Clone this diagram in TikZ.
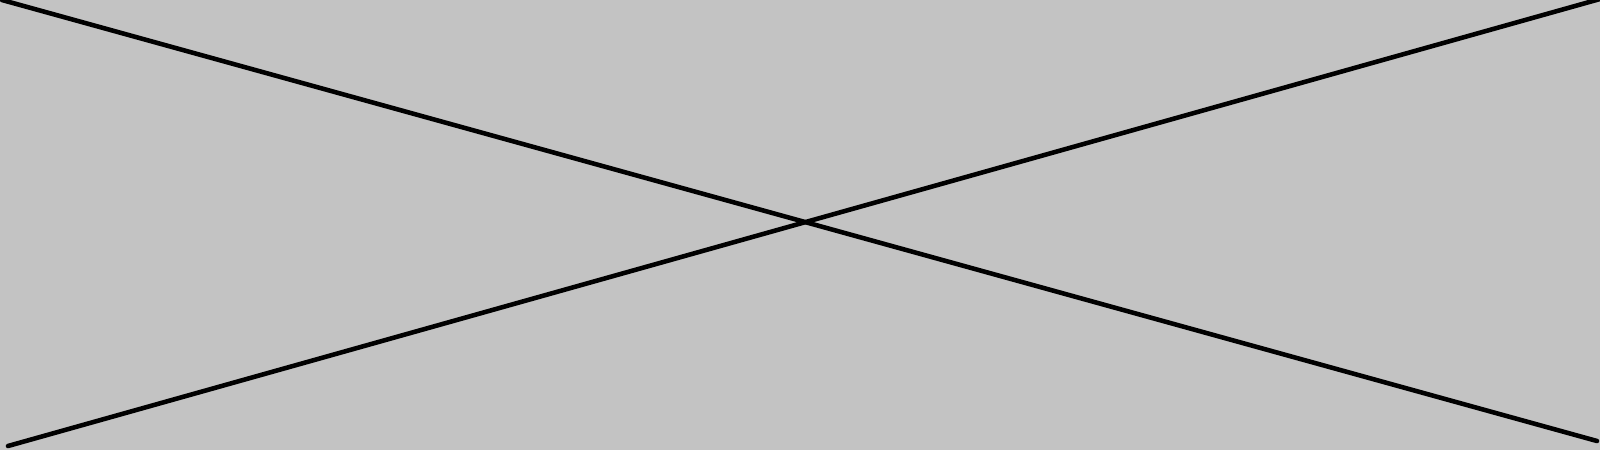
\documentclass[tikz,border=0pt]{standalone}
\usepackage{tikz}
\usetikzlibrary{positioning}
\definecolor{bggray}{RGB}{195,195,195}

\begin{document}
\begin{tikzpicture}[cross/.style={draw=black, line width=1.3pt, line cap=round}]
        \useasboundingbox (0,0) rectangle (16,4.5);
        \fill[bggray] (0,0) rectangle (16,4.5);

        \coordinate (tl) at (0.02,4.50);
        \coordinate (br) at (15.97,0.09);
        \coordinate (bl) at (0.08,0.04);
        \coordinate (tr) at (16.0,4.51);

        \path[cross]
        (tl) edge (br)
        (bl) edge (tr);
      \end{tikzpicture}
\end{document}
